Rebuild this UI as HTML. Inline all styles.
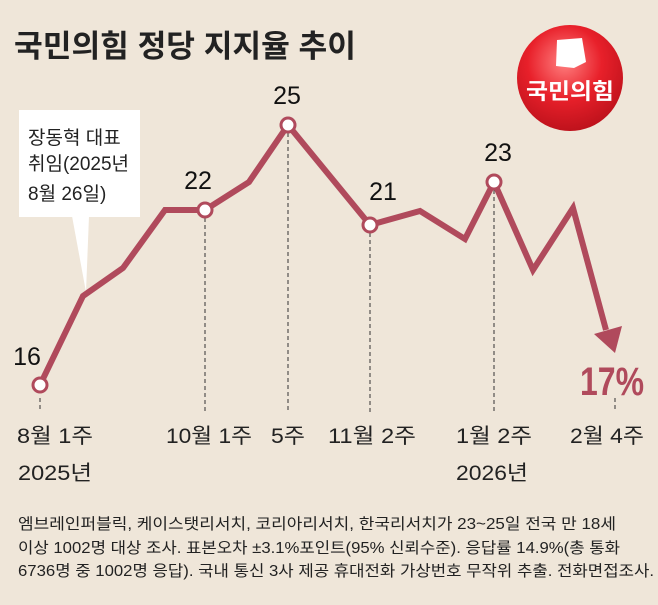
<!DOCTYPE html>
<html><head><meta charset="utf-8"><style>
html,body{margin:0;padding:0;background:#efe6d9;}
body{width:658px;height:600px;overflow:hidden;position:relative;font-family:"Liberation Sans","Noto Sans CJK KR",sans-serif;}
svg text{font-family:"Liberation Sans","Noto Sans CJK KR",sans-serif;}
</style></head><body>
<svg width="658" height="600" viewBox="0 0 658 600" xmlns="http://www.w3.org/2000/svg">
<defs>
<radialGradient id="rg" cx="0.45" cy="0.35" r="0.7">
<stop offset="0" stop-color="#ff8080"/><stop offset="0.5" stop-color="#e8202a"/><stop offset="1" stop-color="#b8101a"/>
</radialGradient>
</defs>
<rect width="658" height="600" fill="#efe6d9"/>
<text x="14" y="57" font-size="31" font-weight="bold" fill="#222" textLength="342" lengthAdjust="spacingAndGlyphs">국민의힘 정당 지지율 추이</text>
<!-- logo -->
<circle cx="570" cy="78" r="53" fill="url(#rg)"/>
<path d="M557,40 L582,38 L586,62 L574,68 L556,66 Z" fill="#fff"/>
<text x="570" y="99" font-size="22" font-weight="bold" fill="#fff" text-anchor="middle" textLength="88" lengthAdjust="spacingAndGlyphs">국민의힘</text>
<!-- dashed lines -->
<g stroke="#333" stroke-width="1" stroke-dasharray="4,3">
<line x1="40" y1="398" x2="40" y2="412"/>
<line x1="205" y1="218" x2="205" y2="412"/>
<line x1="288" y1="133" x2="288" y2="412"/>
<line x1="370" y1="233" x2="370" y2="412"/>
<line x1="494" y1="190" x2="494" y2="412"/>
<line x1="615" y1="398" x2="615" y2="412"/>
</g>
<!-- callout -->
<rect x="19" y="110" width="121" height="107" fill="#fff"/>
<polygon points="72,216 89,216 86,292" fill="#fff"/>
<text font-size="19" fill="#222"><tspan x="28" y="144">장동혁 대표</tspan><tspan x="28" y="170">취임(2025년</tspan><tspan x="28" y="200">8월 26일)</tspan></text>
<!-- series -->
<polyline points="40,385 83,296 123,268 165,210 205,210 249,182 288,125 370,225 420,211 465,239 494,182 533,270 573,208 606,330" fill="none" stroke="#b04a5c" stroke-width="6" stroke-linejoin="miter"/>
<polygon points="594,334 622,326 615,353" fill="#b04a5c"/>
<g fill="#fff" stroke="#b04a5c" stroke-width="3">
<circle cx="40" cy="385" r="7"/><circle cx="205" cy="210" r="7"/><circle cx="288" cy="125" r="7"/><circle cx="370" cy="225" r="7"/><circle cx="494" cy="182" r="7"/>
</g>
<g font-size="25" fill="#111" text-anchor="middle">
<text x="27" y="365">16</text><text x="198" y="189">22</text><text x="287" y="104">25</text><text x="383" y="200">21</text><text x="498" y="161">23</text>
</g>
<text x="612" y="395" font-size="40" font-weight="bold" fill="#b04a5c" text-anchor="middle" textLength="64" lengthAdjust="spacingAndGlyphs">17%</text>
<!-- x labels -->
<g font-size="21" fill="#222">
<text x="17" y="443" textLength="76" lengthAdjust="spacingAndGlyphs">8월 1주</text>
<text x="166" y="443" textLength="86" lengthAdjust="spacingAndGlyphs">10월 1주</text>
<text x="271" y="443" textLength="34" lengthAdjust="spacingAndGlyphs">5주</text>
<text x="328" y="443" textLength="88" lengthAdjust="spacingAndGlyphs">11월 2주</text>
<text x="456" y="443" textLength="76" lengthAdjust="spacingAndGlyphs">1월 2주</text>
<text x="570" y="443" textLength="74" lengthAdjust="spacingAndGlyphs">2월 4주</text>
<text x="18" y="480" textLength="74" lengthAdjust="spacingAndGlyphs">2025년</text>
<text x="456" y="480" textLength="72" lengthAdjust="spacingAndGlyphs">2026년</text>
</g>
<g font-size="15.5" fill="#222">
<text x="18" y="529" textLength="598" lengthAdjust="spacingAndGlyphs">엠브레인퍼블릭, 케이스탯리서치, 코리아리서치, 한국리서치가 23~25일 전국 만 18세</text>
<text x="18" y="553" textLength="602" lengthAdjust="spacingAndGlyphs">이상 1002명 대상 조사. 표본오차 ±3.1%포인트(95% 신뢰수준). 응답률 14.9%(총 통화</text>
<text x="18" y="576" textLength="636" lengthAdjust="spacingAndGlyphs">6736명 중 1002명 응답). 국내 통신 3사 제공 휴대전화 가상번호 무작위 추출. 전화면접조사.</text>
</g>
</svg>
</body></html>
